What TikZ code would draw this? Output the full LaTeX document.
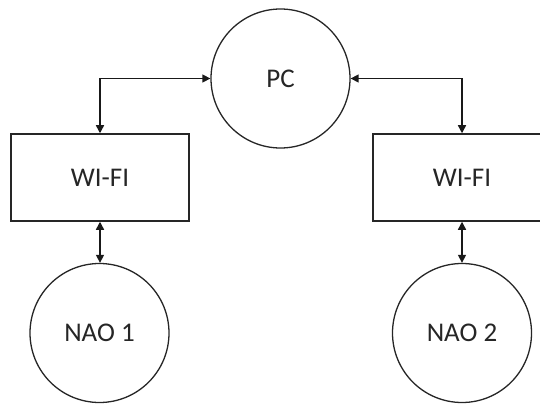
\documentclass[tikz,border=0pt]{standalone}
\usepackage{fontspec}
\setmainfont{Carlito}
\usetikzlibrary{arrows.meta}
\begin{document}
\begin{tikzpicture}[x=1pt,y=-1pt,
  every node/.style={font=\fontsize{27}{32}\selectfont, text=black!85},
  circ/.style={draw=black!85, line width=1.3pt, circle, minimum size=139pt, inner sep=0pt},
  boxx/.style={draw=black!85, line width=1.5pt, rectangle, minimum width=178pt, minimum height=87pt, inner sep=0pt},
  conn/.style={draw=black!90, line width=1.4pt, {Triangle[length=8pt,width=8pt]}-{Triangle[length=8pt,width=8pt]}}
]
\useasboundingbox (0,0) rectangle (540,406);
\clip (0,0) rectangle (540,406);
\node[circ] (pc) at (280.5,78.5) {PC};
\node[boxx] (w1) at (100,177.5) {WI-FI};
\node[boxx] (w2) at (462,177.5) {WI-FI};
\node[circ] (n1) at (99.5,333) {NAO 1};
\node[circ] (n2) at (462,333) {NAO 2};
\draw[conn] (pc.west) -| (w1.north);
\draw[conn] (pc.east) -| (w2.north);
\draw[conn] (w1.south) -- (w1.south |- n1.north);
\draw[conn] (w2.south) -- (w2.south |- n2.north);
\end{tikzpicture}
\end{document}
